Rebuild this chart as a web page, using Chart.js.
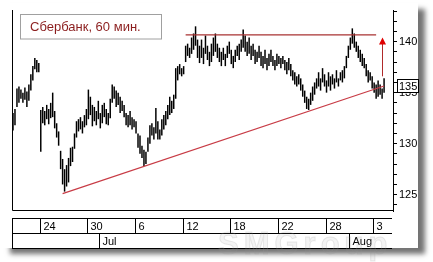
<!DOCTYPE html>
<html>
<head>
<meta charset="utf-8">
<script src="https://cdn.jsdelivr.net/npm/chart.js@4.4.1/dist/chart.umd.min.js"></script>
<style>
  html, body { margin: 0; padding: 0; background: #fff; }
</style>
</head>
<body>
<canvas id="chart" width="433" height="262"></canvas>
<script>
// hourly bars: low / high
const lows = [
  131.3, 131.8, 133.6, 134.0, 134.4, 134.0, 134.3, 133.6, 134.2, 135.2,
  136.2, 137.3, 137.0, 137.0, 129.2, 132.0, 131.8, 132.4, 131.9, 132.5,
  132.6, 131.5, 130.6, 129.8, 127.5, 126.0, 125.3, 125.8, 126.2, 127.8,
  128.2, 129.5, 130.6, 131.2, 131.4, 131.0, 131.6, 131.8, 132.4, 132.8,
  131.7, 132.2, 131.8, 132.4, 131.5, 132.0, 132.6, 131.9, 131.8, 132.5,
  134.0, 134.4, 133.6, 133.8, 133.0, 133.2, 132.6, 131.8, 131.6, 131.8,
  131.4, 131.6, 131.0, 129.6, 129.0, 128.6, 127.8, 128.0, 129.2, 130.0,
  130.8, 130.4, 131.0, 130.4, 130.4, 130.8, 131.4, 131.8, 132.4, 132.8,
  133.0, 133.4, 134.4, 136.2, 136.8, 136.6, 136.8, 138.0, 138.6, 138.4,
  138.8, 139.2, 139.6, 138.4, 137.9, 138.4, 137.8, 138.8, 138.2, 137.6,
  138.0, 138.6, 139.0, 138.4, 138.0, 137.6, 138.2, 137.6, 138.4, 138.8,
  137.8, 137.4, 138.0, 138.6, 138.2, 139.0, 139.4, 139.0, 138.6, 138.8,
  138.2, 138.6, 137.8, 138.0, 138.4, 137.6, 137.4, 137.8, 137.2, 137.6,
  138.0, 137.6, 137.2, 137.6, 137.8, 137.4, 137.8, 137.2, 136.8, 137.2,
  136.6, 136.2, 135.8, 135.6, 135.8, 135.2, 134.6, 134.0, 133.4, 133.3,
  133.8, 134.2, 134.8, 135.4, 135.6, 135.2, 136.0, 135.6, 135.0, 135.6,
  135.2, 135.8, 135.4, 136.0, 135.6, 136.2, 136.0, 136.4, 137.4, 138.4,
  139.2, 139.8, 139.4, 139.0, 138.4, 138.0, 137.6, 137.4, 136.6, 136.0,
  136.2, 135.4, 135.0, 134.4, 134.6, 134.8, 134.4, 135.0
];
const highs = [
  133.0, 133.4, 135.4, 135.6, 135.3, 135.0, 135.5, 135.1, 135.8, 136.8,
  137.6, 138.4, 138.2, 137.9, 133.3, 133.6, 133.2, 133.8, 133.4, 134.0,
  135.0, 133.2, 132.0, 131.2, 129.3, 128.5, 127.5, 127.9, 128.6, 129.6,
  129.7, 131.0, 132.2, 132.4, 132.6, 132.2, 132.8, 133.4, 135.3, 134.6,
  133.8, 133.6, 133.2, 134.2, 133.0, 133.8, 134.0, 133.4, 133.0, 134.4,
  135.8, 135.6, 135.2, 135.0, 134.6, 134.2, 133.8, 133.0, 132.8, 133.2,
  132.6, 132.4, 132.2, 131.0, 130.8, 129.8, 129.4, 129.2, 130.6, 131.8,
  132.0, 131.6, 133.5, 132.2, 131.4, 132.4, 132.8, 133.2, 133.8, 134.6,
  134.2, 134.8, 137.4, 137.6, 137.8, 137.4, 137.6, 139.6, 139.8, 139.4,
  140.4, 140.8, 141.5, 140.2, 139.6, 140.2, 139.4, 140.6, 139.6, 139.0,
  139.8, 140.4, 140.8, 139.8, 139.4, 139.0, 139.4, 138.8, 139.6, 140.0,
  139.2, 138.6, 139.2, 139.6, 139.8, 140.2, 141.2, 140.6, 140.0, 140.4,
  139.6, 139.8, 139.2, 139.0, 139.6, 139.0, 138.6, 139.2, 138.4, 138.8,
  139.2, 138.6, 138.2, 138.8, 138.6, 138.4, 138.6, 138.2, 138.0, 138.4,
  137.8, 137.2, 137.0, 136.6, 136.8, 136.4, 135.8, 135.2, 134.6, 134.4,
  135.0, 135.6, 136.0, 136.4, 137.0, 136.4, 137.4, 136.8, 136.2, 137.0,
  136.6, 136.8, 136.4, 137.2, 136.4, 137.0, 137.2, 137.6, 138.6, 139.6,
  140.4, 141.3, 140.8, 140.0, 139.6, 139.2, 138.8, 138.4, 137.8, 137.2,
  137.0, 136.6, 136.0, 135.8, 136.2, 135.8, 135.4, 136.4
];
const barSlots = 192; // bars + empty space on the right

// date band
const dayLabels = ['24', '30', '6', '12', '18', '22', '28', '3'];
const dayIdx = [14, 38, 62, 86, 110, 134, 158, 182];
const monthLabels = ['Jul', 'Aug'];
const monthIdx = [44, 170];

// price axis
const yMajor = [125, 130, 135, 140];
const yMinor = [124, 125, 126, 127, 128, 129, 130, 131, 132, 133, 134, 135, 136, 137, 138, 139, 140, 141, 142, 143];

// drawn lines
const supportFrom = [25, 125.1];
const supportTo = [187, 135.65];
const resistFrom = 87, resistTo = 183, resistLevel = 140.66;
const arrowIdx = 186, arrowFrom = 136.6, arrowTo = 140.4;
const lastPrice = 135.7, lastLabel = '135';

const title = 'Сбербанк, 60 мин.';

const labels = Array.from({ length: barSlots }, (_, i) => i);
const bars = lows.map((l, i) => [l, highs[i]]);

const supportData = labels.map(() => null);
supportData[supportFrom[0]] = supportFrom[1];
supportData[supportTo[0]] = supportTo[1];
const resistData = labels.map(() => null);
resistData[resistFrom] = resistLevel;
resistData[resistTo] = resistLevel;

const FONT = 'Arial, "Liberation Sans", sans-serif';

const panelPlugin = {
  id: 'panel',
  beforeDraw(chart) {
    const { ctx } = chart;
    ctx.save();
    ctx.fillStyle = '#fff';
    ctx.fillRect(0, 0, chart.width, chart.height);
    ctx.shadowColor = 'rgba(0,0,0,0.55)';
    ctx.shadowBlur = 5;
    ctx.shadowOffsetX = 7;
    ctx.shadowOffsetY = 6;
    ctx.fillRect(3, 3, 415, 245);
    ctx.restore();
  }
};

const decorPlugin = {
  id: 'decor',
  afterDraw(chart) {
    const { ctx, chartArea: a } = chart;
    const xs = chart.scales.x, ys = chart.scales.y;
    const step = xs.getPixelForValue(1) - xs.getPixelForValue(0);
    const edge = i => Math.round(xs.getPixelForValue(i) - step / 2) + 0.5;
    ctx.save();

    // frame
    ctx.strokeStyle = '#000';
    ctx.lineWidth = 1;
    ctx.beginPath();
    ctx.moveTo(a.left + 0.5, a.top);
    ctx.lineTo(a.left + 0.5, a.bottom - 0.5);
    ctx.lineTo(a.right, a.bottom - 0.5);
    ctx.stroke();

    // date band
    const r1 = 218.5, r2 = 233.5, r3 = 248.5;
    ctx.beginPath();
    [r1, r2, r3].forEach(y => { ctx.moveTo(a.left, y); ctx.lineTo(a.right - 1, y); });
    ctx.moveTo(a.left + 0.5, r1); ctx.lineTo(a.left + 0.5, r3);
    dayIdx.forEach(i => { ctx.moveTo(edge(i), r1); ctx.lineTo(edge(i), r2); });
    monthIdx.forEach(i => { ctx.moveTo(edge(i), r2); ctx.lineTo(edge(i), r3); });
    ctx.stroke();

    ctx.fillStyle = '#000';
    ctx.font = '11px ' + FONT;
    ctx.textBaseline = 'middle';
    dayLabels.forEach((t, k) => ctx.fillText(t, edge(dayIdx[k]) + 3, 226.5));
    monthLabels.forEach((t, k) => ctx.fillText(t, edge(monthIdx[k]) + 3, 241.5));

    // watermark
    ctx.save();
    ctx.font = 'bold 31px ' + FONT;
    ctx.letterSpacing = '5px';
    ctx.fillStyle = 'rgba(150,150,150,0.10)';
    ctx.strokeStyle = 'rgba(150,150,150,0.2)';
    ctx.textBaseline = 'alphabetic';
    ctx.fillText('SMGroup', 218, 254);
    ctx.strokeText('SMGroup', 218, 254);
    ctx.restore();

    // title box
    ctx.fillStyle = '#fff';
    ctx.fillRect(20.5, 14.5, 141, 24.5);
    ctx.strokeStyle = '#a0a0a0';
    ctx.strokeRect(20.5, 14.5, 141, 24.5);
    ctx.fillStyle = '#8b1d1d';
    ctx.font = '13px ' + FONT;
    ctx.fillText(title, 30, 27);

    // arrow
    const ax = Math.round(xs.getPixelForValue(arrowIdx)) + 0.5;
    const y0 = ys.getPixelForValue(arrowFrom), y1 = ys.getPixelForValue(arrowTo);
    ctx.strokeStyle = '#b02a2a';
    ctx.beginPath();
    ctx.moveTo(ax, y0);
    ctx.lineTo(ax, y1 + 6);
    ctx.stroke();
    ctx.fillStyle = '#e00000';
    ctx.beginPath();
    ctx.moveTo(ax, y1);
    ctx.lineTo(ax - 3.5, y1 + 7);
    ctx.lineTo(ax + 3.5, y1 + 7);
    ctx.closePath();
    ctx.fill();

    // last price box
    const py = Math.round(ys.getPixelForValue(lastPrice));
    ctx.fillStyle = '#fff';
    ctx.fillRect(397.5, py - 6.5, 21, 13);
    ctx.strokeStyle = '#000';
    ctx.strokeRect(397.5, py - 6.5, 21, 13);
    ctx.fillStyle = '#000';
    ctx.font = '11px ' + FONT;
    ctx.fillText(lastLabel, 399, py + 0.5);
    ctx.restore();
  }
};

new Chart(document.getElementById('chart'), {
  type: 'bar',
  data: {
    labels: labels,
    datasets: [
      {
        type: 'line',
        data: supportData,
        borderColor: '#c83c46',
        borderWidth: 1.2,
        pointRadius: 0,
        spanGaps: true,
        order: 1
      },
      {
        type: 'line',
        data: resistData,
        borderColor: '#a83232',
        borderWidth: 1.2,
        pointRadius: 0,
        spanGaps: true,
        order: 1
      },
      {
        data: bars,
        backgroundColor: '#000',
        borderWidth: 0,
        barPercentage: 0.75,
        categoryPercentage: 1,
        order: 2
      }
    ]
  },
  options: {
    responsive: false,
    animation: false,
    layout: { padding: { left: 12, top: 10, bottom: 51, right: 0 } },
    plugins: {
      legend: { display: false },
      tooltip: { enabled: false },
      title: { display: false }
    },
    scales: {
      x: { display: false },
      y: {
        position: 'right',
        min: 123.4,
        max: 143.1,
        afterBuildTicks: axis => { axis.ticks = yMinor.map(v => ({ value: v })); },
        afterFit: axis => { axis.width = 40; },
        grid: { drawOnChartArea: false, drawTicks: true, tickLength: 4, color: '#000' },
        border: { display: true, color: '#000' },
        ticks: {
          autoSkip: false,
          padding: 2,
          color: '#000',
          font: { family: FONT, size: 11 },
          callback: v => yMajor.includes(v) ? String(v) : ''
        }
      }
    }
  },
  plugins: [panelPlugin, decorPlugin]
});
</script>
</body>
</html>
